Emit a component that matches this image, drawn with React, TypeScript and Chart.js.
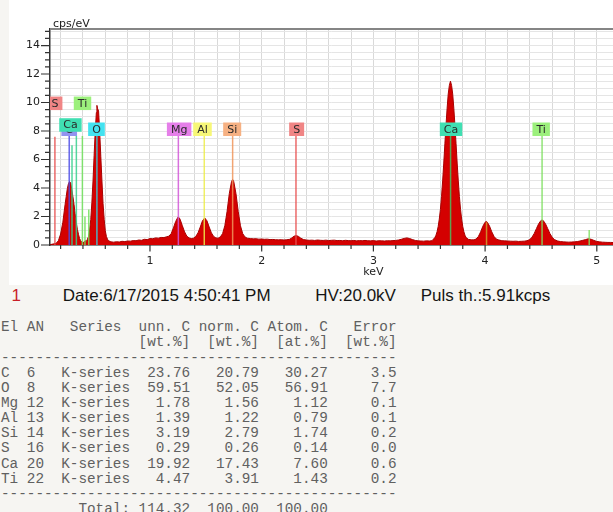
import React, { useEffect, useRef } from 'react';
import { Chart, registerables } from 'chart.js';

Chart.register(...registerables);

// ---- spectrum (keV, cps/eV) ----
const spectrumKeV = [
  0.105, 0.12, 0.14, 0.16, 0.18, 0.2, 0.22, 0.24, 0.25, 0.26, 0.27, 0.28, 0.29, 0.3, 0.31, 0.32, 0.33, 0.34, 0.35, 0.36,
  0.37, 0.38, 0.39, 0.4, 0.41, 0.42, 0.43, 0.44, 0.45, 0.46, 0.47, 0.48, 0.49, 0.5, 0.51, 0.52, 0.525, 0.53, 0.54, 0.55,
  0.56, 0.57, 0.58, 0.59, 0.6, 0.61, 0.62, 0.63, 0.65, 0.675, 0.7, 0.725, 0.75, 0.775, 0.8, 0.825, 0.85, 0.875, 0.9, 0.925,
  0.95, 0.975, 1.0, 1.025, 1.05, 1.075, 1.1, 1.125, 1.15, 1.17, 1.19, 1.21, 1.23, 1.25, 1.26, 1.27, 1.29, 1.31, 1.33, 1.35,
  1.37, 1.39, 1.41, 1.43, 1.45, 1.47, 1.49, 1.51, 1.53, 1.55, 1.57, 1.59, 1.61, 1.63, 1.65, 1.67, 1.69, 1.71, 1.73, 1.74,
  1.75, 1.77, 1.79, 1.81, 1.83, 1.85, 1.87, 1.9, 1.925, 1.95, 1.975, 2.0, 2.025, 2.05, 2.075, 2.1, 2.125, 2.15, 2.175, 2.2,
  2.225, 2.25, 2.27, 2.29, 2.31, 2.33, 2.35, 2.375, 2.4, 2.425, 2.45, 2.475, 2.5, 2.525, 2.55, 2.575, 2.6, 2.625, 2.65, 2.675,
  2.7, 2.725, 2.75, 2.775, 2.8, 2.825, 2.85, 2.875, 2.9, 2.925, 2.95, 2.975, 3.0, 3.025, 3.05, 3.075, 3.1, 3.125, 3.15, 3.175,
  3.2, 3.225, 3.25, 3.275, 3.3, 3.325, 3.35, 3.375, 3.4, 3.425, 3.45, 3.475, 3.5, 3.525, 3.55, 3.56, 3.57, 3.58, 3.59, 3.6,
  3.61, 3.62, 3.63, 3.64, 3.65, 3.66, 3.67, 3.68, 3.69, 3.7, 3.71, 3.72, 3.73, 3.74, 3.75, 3.76, 3.77, 3.78, 3.79, 3.8,
  3.81, 3.82, 3.83, 3.85, 3.875, 3.9, 3.92, 3.94, 3.96, 3.98, 4.0, 4.01, 4.02, 4.04, 4.06, 4.08, 4.1, 4.12, 4.15, 4.175,
  4.2, 4.225, 4.25, 4.275, 4.3, 4.325, 4.35, 4.375, 4.4, 4.42, 4.44, 4.46, 4.48, 4.5, 4.51, 4.52, 4.54, 4.56, 4.58, 4.6,
  4.62, 4.65, 4.675, 4.7, 4.725, 4.75, 4.775, 4.8, 4.825, 4.85, 4.875, 4.9, 4.925, 4.95, 4.975, 5.0, 5.025, 5.05, 5.075, 5.1,
  5.125, 5.15,
];
const spectrumCps = [
  0.0, 0.05, 0.08, 0.12, 0.3, 0.77, 1.6, 2.85, 3.4, 3.95, 4.3, 4.45, 4.35, 3.9, 3.4, 2.85, 2.2, 1.6, 1.1, 0.75,
  0.45, 0.3, 0.2, 0.15, 0.22, 0.3, 0.25, 0.4, 0.6, 1.05, 1.8, 3.0, 4.5, 6.3, 8.0, 9.3, 9.8, 9.6, 9.4, 7.9,
  6.2, 4.5, 2.9, 1.8, 1.0, 0.6, 0.4, 0.3, 0.22, 0.2, 0.23, 0.21, 0.26, 0.24, 0.28, 0.27, 0.31, 0.3, 0.35, 0.33,
  0.4, 0.38, 0.45, 0.44, 0.5, 0.48, 0.53, 0.52, 0.58, 0.62, 0.8, 1.2, 1.65, 1.95, 1.93, 1.8, 1.35, 0.92, 0.62, 0.5,
  0.45, 0.48, 0.6, 0.85, 1.26, 1.7, 1.9, 1.7, 1.26, 0.85, 0.6, 0.5, 0.48, 0.57, 0.8, 1.35, 2.35, 3.6, 4.45, 4.6,
  4.45, 3.6, 2.35, 1.35, 0.8, 0.57, 0.48, 0.45, 0.43, 0.44, 0.41, 0.42, 0.4, 0.41, 0.38, 0.39, 0.37, 0.36, 0.37, 0.35,
  0.37, 0.4, 0.5, 0.62, 0.66, 0.6, 0.48, 0.38, 0.35, 0.33, 0.34, 0.32, 0.35, 0.33, 0.32, 0.34, 0.31, 0.33, 0.34, 0.31,
  0.32, 0.3, 0.33, 0.31, 0.3, 0.32, 0.29, 0.31, 0.3, 0.32, 0.3, 0.29, 0.31, 0.28, 0.3, 0.29, 0.28, 0.3, 0.29, 0.31,
  0.32, 0.35, 0.4, 0.46, 0.5, 0.45, 0.38, 0.32, 0.29, 0.28, 0.27, 0.29, 0.28, 0.3, 0.52, 0.68, 0.93, 1.3, 1.82, 2.5,
  3.4, 4.5, 5.75, 7.1, 8.4, 9.6, 10.6, 11.2, 11.5, 11.2, 10.6, 9.6, 8.4, 7.1, 5.75, 4.5, 3.4, 2.5, 1.82, 1.3,
  0.93, 0.68, 0.52, 0.4, 0.36, 0.36, 0.42, 0.6, 0.92, 1.32, 1.6, 1.65, 1.6, 1.32, 0.92, 0.6, 0.42, 0.36, 0.3, 0.29,
  0.28, 0.27, 0.26, 0.27, 0.25, 0.26, 0.27, 0.3, 0.38, 0.55, 0.81, 1.16, 1.5, 1.72, 1.75, 1.72, 1.5, 1.16, 0.81, 0.55,
  0.38, 0.28, 0.24, 0.22, 0.21, 0.2, 0.21, 0.22, 0.24, 0.28, 0.33, 0.38, 0.44, 0.4, 0.32, 0.25, 0.22, 0.2, 0.19, 0.18,
  0.18, 0.17,
];

// ---- element marker lines ----
const lineKeV = [0.149, 0.277, 0.302, 0.341, 0.395, 0.418, 0.452, 0.525, 1.254, 1.486, 1.74, 2.307, 3.691, 4.013, 4.51, 4.932];
const lineTop = [7.6, 7.65, 7.0, 7.65, 7.65, 2.0, 2.5, 7.65, 7.65, 7.65, 7.65, 7.65, 7.65, 1.6, 7.65, 1.05];
const lineColor = [
  '#e85050', '#4b4be6', '#36d08c', '#36d08c', '#6ee05a', '#6ee05a', '#6ee05a', '#38cfe0',
  '#d257d8', '#eded4a', '#f0955a', '#e85050', '#48c060', '#d0a030', '#7ee060', '#7ee060',
];

// ---- element labels ----
const labelText = ['S', 'C', 'Ca', 'Ti', 'O', 'Mg', 'Al', 'Si', 'S', 'Ca', 'Ti'];
const labelKeV = [0.149, 0.277, 0.288, 0.396, 0.521, 1.261, 1.47, 1.736, 2.313, 3.695, 4.502];
const labelLevel = [2, 0, 1, 2, 0, 0, 0, 0, 0, 0, 0];
const labelFill = ['#f08585', '#9393f0', '#40dfb2', '#9cf07c', '#44e2f0', '#e57fe9', '#f7f778', '#f6b183', '#f08585', '#40dfb2', '#9cf07c'];

// ---- quantification table ----
const tableEl = ['C', 'O', 'Mg', 'Al', 'Si', 'S', 'Ca', 'Ti'];
const tableAN = [6, 8, 12, 13, 14, 16, 20, 22];
const tableUnn = [23.76, 59.51, 1.78, 1.39, 3.19, 0.29, 19.92, 4.47];
const tableNorm = [20.79, 52.05, 1.56, 1.22, 2.79, 0.26, 17.43, 3.91];
const tableAtom = [30.27, 56.91, 1.12, 0.79, 1.74, 0.14, 7.6, 1.43];
const tableErr = [3.5, 7.7, 0.1, 0.1, 0.2, 0.0, 0.6, 0.2];
const tableTotals = [114.32, 100.0, 100.0];

const infoIndex = '1';
const infoDate = 'Date:6/17/2015 4:50:41 PM';
const infoHV = 'HV:20.0kV';
const infoPuls = 'Puls th.:5.91kcps';

const xTitle = 'keV';
const yTitle = 'cps/eV';

const tableLines = [
  'El AN   Series  unn. C norm. C Atom. C   Error',
  ' '.repeat(16) + '[wt.%]  [wt.%]  [at.%]  [wt.%]',
  '-'.repeat(46),
  ...tableEl.map((el, i) =>
    el.padEnd(3) + String(tableAN[i]).padEnd(4) + 'K-series' +
    tableUnn[i].toFixed(2).padStart(7) + tableNorm[i].toFixed(2).padStart(8) +
    tableAtom[i].toFixed(2).padStart(8) + tableErr[i].toFixed(1).padStart(8)
  ),
  '-'.repeat(46),
  ' '.repeat(9) + 'Total:' + tableTotals[0].toFixed(2).padStart(7) +
    tableTotals[1].toFixed(2).padStart(8) + tableTotals[2].toFixed(2).padStart(8),
];

const isWhole = (v: number) => Math.abs(v - Math.round(v)) < 1e-6;

const overlayPlugin = {
  id: 'overlay',
  afterDatasetsDraw(chart: any) {
    const { ctx, chartArea: a, scales } = chart;
    const x = scales.x;
    const y = scales.y;
    ctx.save();
    ctx.beginPath();
    ctx.rect(a.left, a.top, a.right - a.left, a.bottom - a.top);
    ctx.clip();
    ctx.globalAlpha = 0.85;
    ctx.lineWidth = 1.5;
    lineKeV.forEach((e, i) => {
      const px = x.getPixelForValue(e);
      ctx.strokeStyle = lineColor[i];
      ctx.beginPath();
      ctx.moveTo(px, y.getPixelForValue(0));
      ctx.lineTo(px, y.getPixelForValue(lineTop[i]));
      ctx.stroke();
    });
    ctx.globalAlpha = 1;
    const levelBottom = [7.65, 7.95, 9.47];
    ctx.font = '11px "DejaVu Sans"';
    ctx.textAlign = 'center';
    ctx.textBaseline = 'middle';
    labelText.forEach((t, i) => {
      const cx = x.getPixelForValue(labelKeV[i]);
      const bottom = y.getPixelForValue(levelBottom[labelLevel[i]]);
      const h = 13.5;
      const w = ctx.measureText(t).width + 8;
      ctx.fillStyle = labelFill[i];
      ctx.fillRect(cx - w / 2, bottom - h, w, h);
      ctx.fillStyle = '#2a2a2a';
      ctx.fillText(t, cx, bottom - h / 2 + 0.5);
    });
    ctx.restore();
  },
  afterDraw(chart: any) {
    const { ctx, chartArea: a, scales } = chart;
    const x = scales.x;
    const y = scales.y;
    ctx.save();
    // top frame line
    ctx.strokeStyle = '#858585';
    ctx.lineWidth = 2;
    ctx.beginPath();
    ctx.moveTo(a.left, a.top);
    ctx.lineTo(a.right, a.top);
    ctx.stroke();
    // tick marks
    ctx.strokeStyle = '#333';
    ctx.lineWidth = 1.2;
    ctx.beginPath();
    x.ticks.forEach((t: any) => {
      const px = x.getPixelForValue(t.value);
      ctx.moveTo(px, a.bottom);
      ctx.lineTo(px, a.bottom + (isWhole(t.value) ? 6.5 : 4));
    });
    y.ticks.forEach((t: any) => {
      const py = y.getPixelForValue(t.value);
      const major = isWhole(t.value) && Math.round(t.value) % 2 === 0;
      ctx.moveTo(a.left, py);
      ctx.lineTo(a.left - (major ? 9 : 5), py);
    });
    ctx.stroke();
    // titles
    ctx.fillStyle = '#222';
    ctx.font = '11px "DejaVu Sans"';
    ctx.textAlign = 'center';
    ctx.textBaseline = 'alphabetic';
    ctx.fillText(xTitle, x.getPixelForValue(3), 275);
    ctx.textAlign = 'left';
    ctx.fillText(yTitle, a.left + 3, a.top - 2);
    ctx.restore();
  },
};

export default function App() {
  const ref = useRef<HTMLCanvasElement>(null);
  useEffect(() => {
    if (!ref.current) return;
    const chart = new Chart(ref.current, {
      type: 'line',
      data: {
        datasets: [
          {
            data: spectrumKeV.map((k, i) => ({ x: k, y: spectrumCps[i] })),
            borderColor: '#a80000',
            borderWidth: 1,
            backgroundColor: '#d40000',
            fill: 'origin',
            pointRadius: 0,
            tension: 0,
          },
        ],
      },
      options: {
        animation: false,
        responsive: true,
        maintainAspectRatio: false,
        layout: { padding: { left: 0, right: 0, top: 29, bottom: 0 } },
        plugins: { legend: { display: false }, tooltip: { enabled: false } },
        scales: {
          x: {
            type: 'linear',
            min: 0.105,
            max: 5.145,
            bounds: 'ticks',
            afterFit: (s: any) => {
              s.height = 40;
              s.paddingLeft = 0;
              s.paddingRight = 0;
            },
            ticks: {
              stepSize: 0.2,
              includeBounds: false,
              autoSkip: false,
              maxRotation: 0,
              padding: 10,
              color: '#222',
              font: { family: 'DejaVu Sans', size: 11 },
              callback: (v: any) => (isWhole(Number(v)) ? String(Math.round(Number(v))) : ''),
            },
            grid: { color: '#d9d9d9', lineWidth: 1, drawTicks: false },
            border: { color: '#333', width: 1.5 },
          },
          y: {
            type: 'linear',
            min: 0,
            max: 15.16,
            bounds: 'ticks',
            afterFit: (s: any) => {
              s.width = 50;
              s.paddingTop = 0;
              s.paddingBottom = 0;
            },
            ticks: {
              stepSize: 0.5,
              includeBounds: false,
              autoSkip: false,
              padding: 10,
              color: '#222',
              font: { family: 'DejaVu Sans', size: 11 },
              callback: (v: any) => {
                const n = Number(v);
                return isWhole(n) && Math.round(n) % 2 === 0 ? String(Math.round(n)) : '';
              },
            },
            grid: { color: '#e5e5e5', lineWidth: 1, drawTicks: false },
            border: { color: '#333', width: 1.5 },
          },
        },
      } as any,
      plugins: [overlayPlugin],
    });
    return () => chart.destroy();
  }, []);

  return (
    <div style={{ position: 'fixed', left: 0, top: 0, width: 613, height: 512, overflow: 'hidden', background: '#f6f5f2' }}>
      <div style={{ position: 'absolute', left: 9, top: 0, width: 604, height: 285, background: '#ffffff' }} />
      <div style={{ position: 'absolute', left: 0, top: 0, width: 613, height: 285 }}>
        <canvas ref={ref} />
      </div>
      <div style={{ position: 'absolute', left: 0, top: 287, width: 613, height: 17, font: '17px/17px "Liberation Sans"', color: '#151515', whiteSpace: 'nowrap' }}>
        <span style={{ position: 'absolute', left: 11.5, color: '#c81e28' }}>{infoIndex}</span>
        <span style={{ position: 'absolute', left: 62.7 }}>{infoDate}</span>
        <span style={{ position: 'absolute', left: 315.3 }}>{infoHV}</span>
        <span style={{ position: 'absolute', left: 420.7 }}>{infoPuls}</span>
      </div>
      <pre style={{ position: 'absolute', left: 1, top: 320.3, margin: 0, font: '14.33px/15.14px "Liberation Mono"', color: '#606060' }}>
        {tableLines.join('\n')}
      </pre>
    </div>
  );
}
